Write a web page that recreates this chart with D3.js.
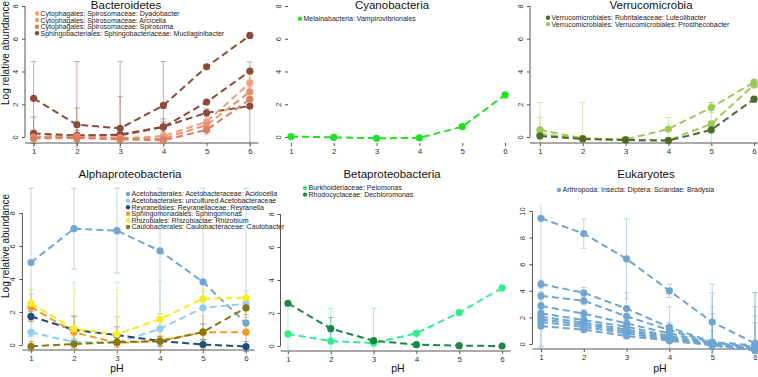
<!DOCTYPE html>
<html>
<head>
<meta charset="utf-8">
<script src="https://cdn.jsdelivr.net/npm/d3@7"></script>
<style>
  body { margin: 0; background: #fff; }
  svg { display: block; font-family: "Liberation Sans", Arial, sans-serif; }
</style>
</head>
<body>
<svg id="chart" width="758" height="377"></svg>
<script>
// pH levels on the x axis
const phLevels = [1, 2, 3, 4, 5, 6];

// Bacteroidetes
const bacteroidetesTaxa = [
  "Cytophagales: Spirosomaceae: Dyadobacter",
  "Cytophagales: Spirosomaceae: Arcicella",
  "Cytophagales: Spirosomaceae: Spirosoma",
  "Sphingobacteriales: Sphingobacteriaceae: Mucilaginibacter"
];
const bacteroidetesSeriesTaxon = [3, 3, 3, 0, 1, 2];
const bacteroidetesMeans = [
  [2.36, 0.75, 0.53, 1.93, 4.29, 6.2],
  [0.22, 0.1, 0.1, 0.61, 2.13, 4.02],
  [0.0, 0.06, 0.15, 0.62, 1.48, 1.89],
  [-0.05, -0.02, -0.08, 0.05, 0.93, 3.31],
  [0.0, 0.02, -0.05, -0.1, 0.73, 2.76],
  [-0.08, -0.06, -0.15, -0.2, 0.43, 2.3]
];
const bacteroidetesSD = [
  [2.24, 3.85, 4.07, 2.67, 0, 0],
  [1.0, 1.67, 2.36, 0.5, 0, 0],
  [0.4, 0.35, 0.4, 0.3, 0.25, 2.7],
  [0.25, 0.2, 0.2, 0.2, 0.3, 0.3],
  [0.2, 0.2, 0.2, 0.2, 0.3, 0.3],
  [0.2, 0.2, 0.2, 0.2, 0.3, 0.3]
];

// Cyanobacteria
const cyanobacteriaTaxa = ["Melainabacteria: Vampirovibrionales"];
const cyanobacteriaSeriesTaxon = [0];
const cyanobacteriaMeans = [[0.03, -0.02, -0.08, -0.05, 0.63, 2.57]];
const cyanobacteriaSD = [[0, 0, 0, 0, 0, 0]];

// Verrucomicrobia
const verrucoTaxa = [
  "Verrucomicrobiales: Rubritaleaceae: Luteolibacter",
  "Verrucomicrobiales: Verrucomicrobiales: Prosthecobacter"
];
const verrucoSeriesTaxon = [1, 1, 0];
const verrucoMeans = [
  [0.43, -0.08, -0.15, 0.49, 1.8, 3.35],
  [0.18, -0.1, -0.2, -0.2, 0.8, 3.18],
  [0.06, -0.12, -0.18, -0.22, 0.43, 2.31]
];
const verrucoSD = [
  [1.67, 2.18, 0, 0.71, 0.3, 0],
  [1.02, 0, 0, 0, 1.3, 0],
  [0, 0, 0, 0, 0, 0]
];

// Alphaproteobacteria
const alphaTaxa = [
  "Acetobacterales: Acetobacteraceae: Acidocella",
  "Acetobacterales: uncultured Acetobacteraceae",
  "Reyranellales: Reyranellaceae: Reyranella",
  "Sphingomonadales: Sphingomonas",
  "Rhizobiales: Rhizobiaciae: Rhizobium",
  "Caulobacterales: Caulobacteraceae: Caulobacter"
];
const alphaSeriesTaxon = [0, 1, 2, 3, 4, 5];
const alphaMeans = [
  [5.0, 7.05, 6.93, 5.7, 3.82, 1.33],
  [0.77, 0.18, 0.15, 0.98, 2.25, 2.5],
  [1.73, 0.92, 0.6, 0.24, 0.03, -0.09],
  [2.29, 0.78, 0.12, 0.27, 0.76, 0.78],
  [2.52, 0.98, 0.65, 1.57, 2.8, 2.86],
  [-0.08, 0.06, 0.18, 0.22, 0.79, 2.25]
];
const alphaSD = [
  [4.5, 2.45, 2.57, 3.8, 5.68, 8.17],
  [2.6, 3.62, 3.65, 2.9, 1.0, 0.8],
  [0.3, 0.8, 0.5, 0.3, 0.3, 0.3],
  [0.8, 1.0, 1.6, 1.2, 1.0, 0.9],
  [0.85, 2.37, 2.7, 1.0, 0.6, 0.3],
  [0.3, 0.3, 0.3, 0.3, 0.5, 0.4]
];

// Betaproteobacteria
const betaTaxa = ["Burkholderiaceae: Pelomonas", "Rhodocyclaceae: Dechloromonas"];
const betaSeriesTaxon = [0, 1];
const betaMeans = [
  [0.73, 0.3, 0.18, 0.77, 2.02, 3.52],
  [2.59, 1.05, 0.32, 0.08, 0.02, 0.0]
];
const betaSD = [
  [1.55, 1.98, 2.1, 0, 0, 0],
  [0, 0.67, 0, 0, 0, 0]
];

// Eukaryotes
const eukaryoteTaxa = ["Arthropoda: Insecta: Diptera: Sciaridae: Bradysia"];
const eukaryoteSeriesTaxon = [0, 0, 0, 0, 0, 0, 0, 0, 0];
const eukaryoteMeans = [
  [9.45, 8.3, 6.4, 4.0, 1.65, 0.05],
  [4.5, 3.85, 2.66, 1.25, 0.15, -0.1],
  [3.62, 3.25, 2.08, 1.05, 0.1, -0.2],
  [2.86, 2.28, 1.55, 0.8, 0.05, -0.3],
  [2.3, 1.8, 1.3, 0.6, 0.0, -0.35],
  [2.05, 1.6, 1.1, 0.5, -0.02, -0.4],
  [1.85, 1.45, 0.95, 0.4, -0.05, -0.42],
  [1.65, 1.28, 0.8, 0.32, -0.08, -0.45],
  [1.35, 1.08, 0.6, 0.25, -0.1, -0.5]
];
const eukaryoteSD = [
  [9.6, 1.1, 3.0, 0.5, 2.85, 3.8],
  [0.3, 0.4, 1.2, 1.55, 3.7, 3.95],
  [0.3, 0.3, 0.5, 0.55, 2.7, 3.0],
  [0.3, 0.3, 0.3, 0.3, 2.25, 2.4],
  [0.2, 0.2, 0.2, 0.2, 1.6, 1.95],
  [0.2, 0.2, 0.2, 0.2, 1.0, 0.5],
  [0.15, 0.15, 0.15, 0.15, 0.15, 0.15],
  [0.15, 0.15, 0.15, 0.15, 0.15, 0.15],
  [1.6, 0.15, 0.15, 0.15, 0.15, 0.15]
];

// colours per legend entry
const bacteroidetesColors = ["#f4a07e", "#ea9170", "#d77f63", "#8e4a38"];
const cyanobacteriaColors = ["#1fe31f"];
const verrucoColors = ["#4f6a2c", "#9acb55"];
const alphaColors = ["#70a6d3", "#93cdf0", "#1e4d7c", "#f39a1f", "#f6ea20", "#8a7912"];
const betaColors = ["#35eb8e", "#1a8845"];
const eukaryoteColors = ["#6fa5d2"];

const panels = [
  { title: "Bacteroidetes", taxa: bacteroidetesTaxa, colors: bacteroidetesColors,
    seriesTaxon: bacteroidetesSeriesTaxon, means: bacteroidetesMeans, sd: bacteroidetesSD,
    left: 25, right: 258.5, axisX: 25, zeroY: 137, yTicks: [0, 2, 4, 6, 8], maxY: 6, bottom: 143, top: 0,
    titleX: 126, titleY: 8.5, legendX: 37, legendY: 13.5, yLabelY: 53, pH: false, lines: true },
  { title: "Cyanobacteria", taxa: cyanobacteriaTaxa, colors: cyanobacteriaColors,
    seriesTaxon: cyanobacteriaSeriesTaxon, means: cyanobacteriaMeans, sd: cyanobacteriaSD,
    left: 282.4, right: 513.6, axisX: 288, zeroY: 137, yTicks: [0, 2, 4, 6, 8], maxY: 6, bottom: 143, top: 0,
    titleX: 392, titleY: 8.5, legendX: 300, legendY: 18.7, yLabelY: null, pH: false, lines: false },
  { title: "Verrucomicrobia", taxa: verrucoTaxa, colors: verrucoColors,
    seriesTaxon: verrucoSeriesTaxon, means: verrucoMeans, sd: verrucoSD,
    left: 531.4, right: 762.6, axisX: 530, zeroY: 137, yTicks: [0, 2, 4, 6, 8], maxY: 6, bottom: 143, top: 0,
    titleX: 651, titleY: 8.5, legendX: 548, legendY: 17.7, yLabelY: null, pH: false, lines: true },
  { title: "Alphaproteobacteria", taxa: alphaTaxa, colors: alphaColors,
    seriesTaxon: alphaSeriesTaxon, means: alphaMeans, sd: alphaSD,
    left: 22.4, right: 254.6, axisX: 22.4, zeroY: 345, yTicks: [0, 2, 4, 6, 8], maxY: 213, bottom: 350, top: 186,
    titleX: 130, titleY: 178, legendX: 128, legendY: 194, yLabelY: 246, pH: true, pHX: 117, lines: true },
  { title: "Betaproteobacteria", taxa: betaTaxa, colors: betaColors,
    seriesTaxon: betaSeriesTaxon, means: betaMeans, sd: betaSD,
    left: 279.4, right: 510.6, axisX: 280.5, zeroY: 346, yTicks: [0, 2, 4, 6, 8], maxY: 214, bottom: 351, top: 186,
    titleX: 392, titleY: 178, legendX: 305, legendY: 188, yLabelY: null, pH: true, pHX: 398, lines: true },
  { title: "Eukaryotes", taxa: eukaryoteTaxa, colors: eukaryoteColors,
    seriesTaxon: eukaryoteSeriesTaxon, means: eukaryoteMeans, sd: eukaryoteSD,
    left: 532.4, right: 763.6, axisX: 532.4, zeroY: 344, yTicks: [0, 2, 4, 6, 8, 10], maxY: 211, bottom: 349, top: 205,
    titleX: 646, titleY: 178, legendX: 559, legendY: 190, yLabelY: null, pH: true, pHX: 660, lines: true }
];

const svg = d3.select("#chart");
const axisColor = "#555";

panels.forEach(function (p, pi) {
  const g = svg.append("g").attr("class", "panel");
  const x = d3.scaleLinear().domain([0.8, 6.2]).range([p.left, p.right]);
  const topTick = p.yTicks[p.yTicks.length - 1];
  const y = d3.scaleLinear().domain([0, topTick]).range([p.zeroY, p.maxY]);

  // clip for error bars
  const clipId = "clip" + pi;
  svg.append("clipPath").attr("id", clipId)
    .append("rect")
    .attr("x", p.left).attr("y", p.top)
    .attr("width", p.right - p.left).attr("height", p.bottom - p.top + 5);

  // title
  g.append("text")
    .attr("x", p.titleX).attr("y", p.titleY)
    .attr("text-anchor", "middle")
    .style("font-size", "11.5px")
    .attr("fill", "#111")
    .text(p.title);

  // x axis line along the bottom of the plot region
  if (p.lines) {
    g.append("line")
      .attr("x1", p.axisX).attr("x2", Math.min(p.right, 758))
      .attr("y1", p.bottom).attr("y2", p.bottom)
      .attr("stroke", axisColor).attr("stroke-width", 1);
  }

  const xAxis = g.append("g")
    .attr("transform", "translate(0," + p.bottom + ")")
    .call(d3.axisBottom(x).tickValues(phLevels).tickSize(3).tickPadding(2).tickFormat(d3.format("d")));
  xAxis.select(".domain").remove();
  xAxis.selectAll(".tick line").attr("stroke", axisColor);
  xAxis.selectAll(".tick text").style("font-size", "8px").attr("fill", "#333")
    .attr("font-family", "Liberation Sans, Arial, sans-serif");

  // y axis (line spans the ticks)
  const yAxis = g.append("g")
    .attr("transform", "translate(" + p.axisX + ",0)")
    .call(d3.axisLeft(y).tickValues(p.yTicks).tickSize(3).tickFormat(d3.format("d")));
  if (p.lines) {
    yAxis.select(".domain").attr("d", "M0," + y(0) + "V" + y(topTick)).attr("stroke", axisColor);
  } else {
    yAxis.select(".domain").remove();
  }
  yAxis.selectAll(".tick line").attr("stroke", axisColor);
  yAxis.selectAll(".tick text")
    .attr("x", 0).attr("dy", null)
    .attr("text-anchor", "middle")
    .attr("transform", "translate(-7,0) rotate(-90)")
    .style("font-size", "7.5px").attr("fill", "#333")
    .attr("font-family", "Liberation Sans, Arial, sans-serif");

  if (p.yLabelY !== null) {
    g.append("text")
      .attr("transform", "translate(9," + p.yLabelY + ") rotate(-90)")
      .attr("text-anchor", "middle")
      .style("font-size", "10px")
      .attr("fill", "#111")
      .text("Log relative abundance");
  }
  if (p.pH) {
    g.append("text")
      .attr("x", p.pHX).attr("y", 372)
      .attr("text-anchor", "middle")
      .style("font-size", "10.5px")
      .attr("fill", "#111")
      .text("pH");
  }

  // error bars
  const bars = g.append("g").attr("clip-path", "url(#" + clipId + ")");
  p.means.forEach(function (m, si) {
    const col = p.colors[p.seriesTaxon[si]];
    m.forEach(function (v, k) {
      const s = p.sd[si][k];
      if (s <= 0) return;
      const px = x(phLevels[k]);
      const y1 = y(v - s), y2 = y(v + s);
      bars.append("line").attr("x1", px).attr("x2", px).attr("y1", y1).attr("y2", y2)
        .attr("stroke", col).attr("stroke-opacity", 0.45).attr("stroke-width", 1);
      [y1, y2].forEach(function (cy) {
        bars.append("line").attr("x1", px - 3).attr("x2", px + 3).attr("y1", cy).attr("y2", cy)
          .attr("stroke", col).attr("stroke-opacity", 0.45).attr("stroke-width", 1);
      });
    });
  });

  // dashed lines and points
  const line = d3.line().x(function (d, k) { return x(phLevels[k]); }).y(function (d) { return y(d); });
  p.means.forEach(function (m, si) {
    const col = p.colors[p.seriesTaxon[si]];
    g.append("path").attr("d", line(m))
      .attr("fill", "none").attr("stroke", col).attr("stroke-width", 2)
      .attr("stroke-dasharray", "7,4");
    g.selectAll(null).data(m).enter().append("circle")
      .attr("cx", function (d, k) { return x(phLevels[k]); })
      .attr("cy", function (d) { return y(d); })
      .attr("r", 3.6)
      .attr("fill", col);
  });

  // legend
  const lg = g.append("g").attr("transform", "translate(" + p.legendX + "," + p.legendY + ")");
  p.taxa.forEach(function (t, i) {
    lg.append("circle").attr("cx", 0).attr("cy", i * 6.6).attr("r", 2.2).attr("fill", p.colors[i]);
    lg.append("text").attr("x", 3.5).attr("y", i * 6.6).attr("dy", "0.35em")
      .style("font-size", "7px").attr("fill", "#222").text(t);
  });
});
</script>
</body>
</html>
